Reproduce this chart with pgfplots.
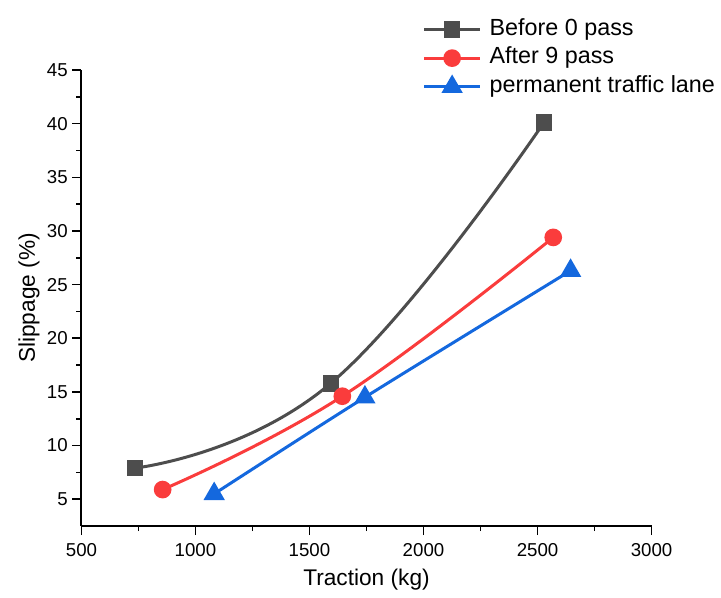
\documentclass[border=0pt]{standalone}
\usepackage{fontspec}
\setmainfont{Liberation Sans}
\usepackage{pgfplots}
\pgfplotsset{compat=1.18}
\definecolor{cgray}{RGB}{77,77,77}
\definecolor{cred}{RGB}{250,60,60}
\definecolor{cblue}{RGB}{20,104,222}

\begin{document}
\begin{tikzpicture}
\begin{axis}[
  at={(0,0)}, anchor=south west,
  scale only axis, width=427.5pt, height=342pt,
  xmin=500, xmax=3000, ymin=2.5, ymax=45,
  xtick={500,1000,...,3000}, ytick={5,10,...,45},
  minor x tick num=1, minor y tick num=1,
  axis x line*=bottom, axis y line*=left,
  axis line style={line width=1.5pt},
  tick style={line width=1.2pt, black},
  tick align=outside,
  major tick length=6.75pt, minor tick length=3.75pt,
  tick label style={font=\fontsize{14}{16}\selectfont},
  xticklabel style={yshift=-2.5pt},
  /pgf/number format/assume math mode=true,
  /pgf/number format/set thousands separator={},
  xlabel={Traction (kg)}, ylabel={Slippage (\%)},
  label style={font=\fontsize{17}{20}\selectfont},
  xlabel style={at={(axis description cs:0.5,-0.117)}, anchor=center},
  ylabel style={at={(axis description cs:-0.092,0.5)}, anchor=center},
  legend style={draw=none, fill=none, at={(axis description cs:0.598,1.118)},
    anchor=north west, font=\fontsize{17.5}{20}\selectfont,
    row sep=2pt, inner sep=0pt,
    nodes={inner sep=1.5pt, text height=12.5pt, text depth=4pt, anchor=west},
    /tikz/every odd column/.append style={column sep=4.5pt}},
  legend cell align=left,
  legend image code/.code={\draw[mark repeat=2,mark phase=2,#1] plot coordinates {(0pt,0pt) (21pt,0pt) (42pt,0pt)};},
]
\addplot[cgray, line width=2.25pt, smooth, tension=0.75, mark=square*, mark size=5pt, mark options={solid}]
  coordinates {(735,7.9) (1593,15.8) (2528,40.1)};
\addplot[cred, line width=2.25pt, smooth, tension=0.7, mark=*, mark size=5.5pt, mark options={solid}]
  coordinates {(856,5.9) (1644,14.6) (2569,29.4)};
\addplot[cblue, line width=2.25pt, smooth, mark=triangle*, mark size=7pt, mark options={solid}]
  coordinates {(1082,5.5) (1743,14.5) (2645,26.3)};
\legend{Before 0 pass, After 9 pass, permanent traffic lane}
\end{axis}
\path (-61.1pt,-53.25pt) rectangle (479.6pt,394.5pt);
\end{tikzpicture}
\end{document}
